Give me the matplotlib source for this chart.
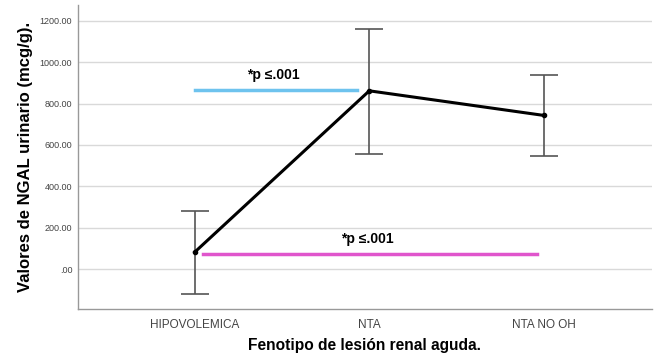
import matplotlib
matplotlib.use("Agg")
import matplotlib.pyplot as plt

categories = ["HIPOVOLEMICA", "NTA", "NTA NO OH"]
means = [82, 862, 743]
upper = [281, 1163, 939]
lower = [-121, 556, 547]
yticks = [0, 200, 400, 600, 800, 1000, 1200]
ytick_labels = [".00", "200.00", "400.00", "600.00", "800.00", "1000.00", "1200.00"]

# significance annotations
blue_y, blue_x = 866, (0.0, 0.93)
blue_text, blue_text_pos = "*p ≤.001", (0.45, 938)
pink_y, pink_x = 74, (0.05, 1.96)
pink_text, pink_text_pos = "*p ≤.001", (0.99, 145)

plt.rcParams['font.family'] = ['Liberation Sans', 'DejaVu Sans']

fig = plt.figure(figsize=(6.54, 3.58), dpi=100)
ax = fig.add_axes([0.119, 0.137, 0.878, 0.849])

x = list(range(len(categories)))
yerr = [[m - l for m, l in zip(means, lower)], [u - m for u, m in zip(upper, means)]]
ax.errorbar(x, means, yerr=yerr, fmt='none', ecolor='#555555', elinewidth=1.2,
            capsize=10, capthick=1.2, zorder=3)
ax.plot(x, means, color='black', lw=2.2, marker='o', ms=3, zorder=4)

ax.plot(blue_x, [blue_y, blue_y], color='#6ec3ee', lw=2.5, zorder=2)
ax.text(*blue_text_pos, blue_text, ha='center', va='center', fontsize=10, fontweight='bold')
ax.plot(pink_x, [pink_y, pink_y], color='#e055cc', lw=2.5, zorder=2)
ax.text(*pink_text_pos, pink_text, ha='center', va='center', fontsize=10, fontweight='bold')

ax.set_xlim(-0.67, 2.62)
ax.set_ylim(-193, 1277)
ax.set_yticks(yticks)
ax.set_yticklabels(ytick_labels)
ax.set_xticks(x)
ax.set_xticklabels(categories)
ax.tick_params(axis='both', length=0, colors='#444444')
ax.tick_params(axis='x', pad=7, labelsize=8.5)
ax.tick_params(axis='y', pad=4, labelsize=6.5)
ax.grid(axis='y', color='#d9d9d9', lw=1.0)
ax.set_axisbelow(True)
for s in ['top', 'right']:
    ax.spines[s].set_visible(False)
for s in ['left', 'bottom']:
    ax.spines[s].set_color('#999999')
    ax.spines[s].set_linewidth(1.0)

ax.set_xlabel("Fenotipo de lesión renal aguda.", fontsize=11.2, fontweight='bold', labelpad=5)
ax.set_ylabel("Valores de NGAL urinario (mcg/g).", fontsize=12, fontweight='bold', labelpad=5)

fig.savefig("out.png", dpi=100)
